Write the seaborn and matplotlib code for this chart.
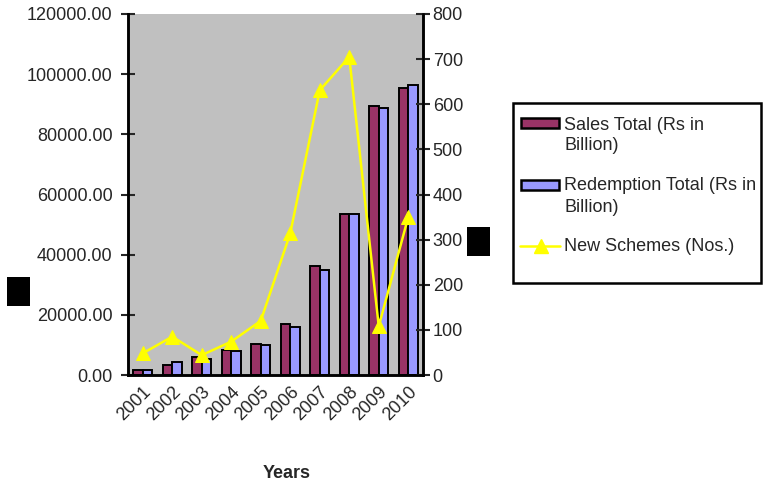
import numpy as np
import pandas as pd
import matplotlib
matplotlib.use("Agg")
import matplotlib.pyplot as plt
import seaborn as sns
from matplotlib.patches import Rectangle
from matplotlib.lines import Line2D

years = ["2001", "2002", "2003", "2004", "2005", "2006", "2007", "2008", "2009", "2010"]
sales_total = [1600, 3300, 6000, 8400, 10400, 17000, 36300, 53400, 89400, 95300]
redemption_total = [1500, 4400, 5300, 8000, 10000, 16000, 34900, 53400, 88700, 96400]
new_schemes = [48, 85, 44, 74, 120, 314, 631, 705, 108, 350]

left_ticks = [0, 20000, 40000, 60000, 80000, 100000, 120000]
right_ticks = [0, 100, 200, 300, 400, 500, 600, 700, 800]

sales_lines = ["Sales Total (Rs in", "Billion)"]
red_lines = ["Redemption Total (Rs in", "Billion)"]
line_label = "New Schemes (Nos.)"

SALES_C = "#993366"
RED_C = "#9999FF"
LINE_C = "#FFFF00"
FS = 13

sns.set_theme(style="white")
plt.rcParams["font.family"] = ["Liberation Sans", "DejaVu Sans"]

df = pd.DataFrame({
    "Year": years * 2,
    "Value": sales_total + redemption_total,
    "Series": ["Sales"] * len(years) + ["Redemption"] * len(years),
})

W, H = 764, 487
fig = plt.figure(figsize=(W / 100, H / 100), dpi=100)


def fx(px):
    return px / W


def fy(py):
    return 1 - py / H


ax = fig.add_axes([fx(128), fy(375), 295 / W, 361 / H])
ax.set_facecolor("#C0C0C0")

sns.barplot(data=df, x="Year", y="Value", hue="Series", ax=ax,
            palette=[SALES_C, RED_C], width=0.64,
            edgecolor="black", linewidth=1.4, saturation=1, legend=False)
ax.set_xlim(-0.5, len(years) - 0.5)
ax.set_ylim(0, 120000)
ax.set_yticks(left_ticks)
ax.set_yticklabels([f"{v:.2f}" for v in left_ticks])
ax.set_xticks(np.arange(-0.5, len(years) + 0.5, 1.0), minor=False)
ax.set_xticklabels([])
ax.set_xticks(np.arange(len(years)), minor=True)
ax.set_xticklabels(years, minor=True, rotation=45, ha="right",
                   rotation_mode="anchor", fontsize=FS)
ax.tick_params(axis="x", which="minor", length=0, pad=6)
ax.tick_params(axis="x", which="major", direction="inout", length=8, width=1.5)
ax.tick_params(axis="y", direction="inout", length=10, width=1.5, labelsize=FS, pad=6)
ax.set_xlabel("")
ax.set_ylabel("")

ax2 = ax.twinx()
sns.lineplot(x=np.arange(len(years)), y=new_schemes, ax=ax2, color=LINE_C,
             marker="^", markersize=10, markeredgecolor=LINE_C, linewidth=1.8)
ax2.set_ylim(0, 800)
ax2.set_yticks(right_ticks)
ax2.set_yticklabels([str(v) for v in right_ticks])
ax2.tick_params(axis="y", direction="inout", length=10, width=1.5, labelsize=FS, pad=2)
ax2.set_xlim(-0.5, len(years) - 0.5)

for a in (ax, ax2):
    for s in a.spines.values():
        s.set_color("black")
        s.set_linewidth(1.8)
    a.spines["top"].set_visible(False)

fig.text(fx(287), fy(474), "Years", ha="center", va="center",
         fontsize=FS, fontweight="bold")

# axis titles rendered as solid glyph blocks
for cx, cy in [(18.5, 291.5), (478.5, 241.5)]:
    fig.text(fx(cx), fy(cy), "\u2588", ha="center", va="center",
             fontsize=18, family="DejaVu Sans", color="black",
             bbox=dict(facecolor="black", edgecolor="none", pad=1.2))

# legend box
fig.patches.append(Rectangle((fx(513), fy(283)), (761 - 513) / W, (283 - 103) / H,
                             transform=fig.transFigure, facecolor="white",
                             edgecolor="black", linewidth=1.8, zorder=1))
for color, cy in [(SALES_C, 123), (RED_C, 185)]:
    fig.patches.append(Rectangle((fx(521), fy(cy + 5)), 38 / W, 10 / H,
                                 transform=fig.transFigure, facecolor=color,
                                 edgecolor="black", linewidth=1.8, zorder=2))
fig.lines.append(Line2D([fx(520), fx(560)], [fy(246), fy(246)],
                        transform=fig.transFigure, color=LINE_C, linewidth=1.8,
                        zorder=2))
fig.lines.append(Line2D([fx(541)], [fy(246)], transform=fig.transFigure,
                        color=LINE_C, marker="^", markersize=10, zorder=3))
for txt, cy in [(sales_lines[0], 125), (sales_lines[1], 146),
                (red_lines[0], 186), (red_lines[1], 207), (line_label, 246.5)]:
    fig.text(fx(564), fy(cy), txt, ha="left", va="center", fontsize=FS, zorder=3)

fig.savefig("out.png", dpi=100)
